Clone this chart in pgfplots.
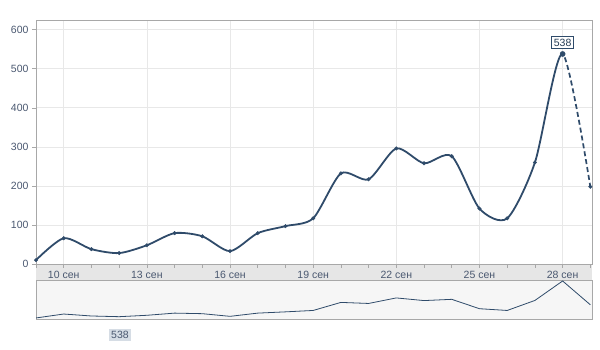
\documentclass[border=0pt]{standalone}
\usepackage{fontspec}
\setmainfont{Liberation Sans}
\usepackage{pgfplots}
\usepackage{pgfplotstable}
\pgfplotsset{compat=1.18}
\definecolor{ser}{HTML}{2F4B6A}
\definecolor{lab}{HTML}{4A5870}
\definecolor{grd}{HTML}{E8E8E8}
\definecolor{frm}{HTML}{A8A8A8}
\definecolor{band}{HTML}{E6E6E6}
\definecolor{nav}{HTML}{F6F6F6}
\definecolor{tag}{HTML}{D6DDE5}
\pgfplotstableread{
d v
9 10
10 66
11 38
12 28
13 48
14 79
15 71
16 33
17 79
18 97
19 117
20 232
21 217
22 296
23 258
24 276
25 142
26 117
27 260
28 538
29 198
}\datafull
\begin{document}
\begin{tikzpicture}[font=\fontsize{10bp}{12bp}\selectfont]
\path[use as bounding box] (0,0) rectangle (600bp,350bp);
\fill[band] (36bp,70bp) rectangle (592bp,86bp);
\begin{axis}[at={(36bp,86bp)}, anchor=south west, scale only axis,
  width=556bp, height=244bp, xmin=9, xmax=29.06, ymin=0, ymax=625,
  xtick={10,13,...,28},
  xticklabels={10 сен,13 сен,16 сен,19 сен,22 сен,25 сен,28 сен},
  minor xtick={9,...,29},
  ytick={0,100,...,600},
  xtick pos=left, ytick pos=left,
  grid=major, major grid style={grd, line width=0.7bp},
  axis line style={frm, line width=0.7bp},
  tick style={frm, line width=0.6bp},
  tick align=outside, major tick length=4bp, minor tick length=4bp,
  ticklabel style={text=lab, font=\fontsize{10.5bp}{12bp}\selectfont},
  /pgf/number format/assume math mode=true,
  x tick label style={anchor=base, yshift=-11bp},
  clip=false]
\begin{scope}
\clip (axis cs:28,-50) rectangle (axis cs:30,700);
\addplot[ser, line width=1.7bp, dash pattern=on 5bp off 3bp, smooth, tension=0.45] table[x=d,y=v] {\datafull};
\end{scope}
\begin{scope}
\clip (axis cs:8,-50) rectangle (axis cs:28,700);
\addplot[ser, line width=1.8bp, smooth, tension=0.45] table[x=d,y=v] {\datafull};
\end{scope}
\addplot[only marks, mark=*, mark size=1.8bp, ser, mark options={fill=ser}] table[x=d,y=v] {\datafull};
\addplot[only marks, mark=*, mark size=2.6bp, ser, mark options={fill=ser}, nodes near coords, nodes near coords style={draw=ser, fill=white, text=ser!80!black, inner sep=2.2bp, line width=0.7bp, anchor=south, yshift=5bp, font=\fontsize{10.5bp}{12bp}\selectfont}] coordinates {(28,538)};
\end{axis}
\begin{axis}[at={(36bp,31bp)}, anchor=south west, scale only axis,
  width=556bp, height=39bp, xmin=9, xmax=29.06, ymin=-5, ymax=552,
  axis background/.style={fill=nav},
  axis line style={frm, line width=0.7bp}, ticks=none]
\addplot[ser, line width=0.8bp] table[x=d,y=v] {\datafull};
\end{axis}
\node[fill=tag, inner sep=2.5bp, text=lab, font=\fontsize{10.5bp}{12bp}\selectfont] at (120bp,15bp) {538};
\end{tikzpicture}
\end{document}
